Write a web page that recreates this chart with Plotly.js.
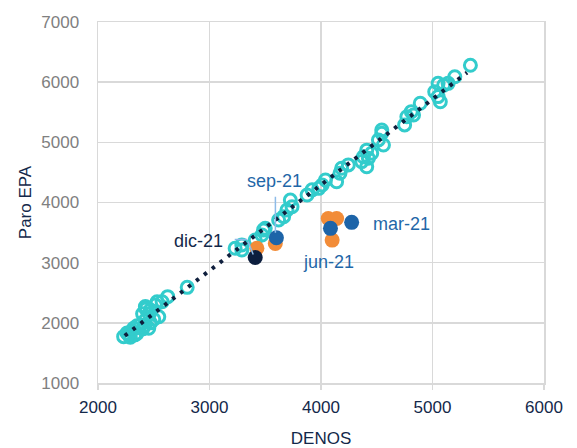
<!DOCTYPE html>
<html>
<head>
<meta charset="utf-8">
<script src="https://cdn.plot.ly/plotly-3.0.1.min.js"></script>
<style>html,body{margin:0;padding:0;background:#fff;}#chart{width:577px;height:448px;}</style>
</head>
<body>
<div id="chart"></div>
<script>
// Historical series (open turquoise circles)
const histDenos = [5340,5200,5140,5100,5050,5020,5050,5070,4890,4830,4810,4770,4750,4545,4545,4515,4560,4410,4455,4380,4425,4365,4410,4245,4185,4170,4140,4040,4010,3980,3920,3875,3725,3740,3695,3665,3620,3500,3470,3485,3410,3290,3230,3290,2800,2625,2575,2530,2515,2470,2425,2425,2545,2380,2455,2320,2350,2275,2230,2260,2300,2330,2400,2420,2470,2500,2400,2430,2460,2350,2290];
const histParo  = [6280,6090,5980,5950,5980,5840,5760,5675,5650,5455,5510,5425,5290,5205,5150,5040,4955,4870,4820,4760,4735,4680,4595,4625,4570,4485,4345,4375,4290,4235,4210,4125,4040,3930,3875,3765,3710,3570,3460,3545,3375,3295,3240,3210,2590,2435,2350,2350,2295,2215,2270,2045,2100,1965,1910,1910,1825,1800,1770,1830,1860,1800,1900,1960,2000,2060,2150,2230,2150,1950,1760];

// 2020 quarters (orange)
const orangeDenos = [3425,3590,4065,4140,4100];
const orangeParo  = [3240,3320,3735,3735,3375];

// 2021 quarters (blue)
const blueLabels = ["mar-21","jun-21","sep-21"];
const blueDenos  = [4275,4085,3600];
const blueParo   = [3670,3570,3415];

// Latest (navy)
const lastLabels = ["dic-21"];
const lastDenos  = [3410];
const lastParo   = [3085];

// Trend line endpoints
const trendDenos = [2240,5310];
const trendParo  = [1785,6160];

const xTicks = [2000,3000,4000,5000,6000];
const yTicks = [1000,2000,3000,4000,5000,6000,7000];

const FONT = "Liberation Sans, Arial, sans-serif";
const NAVY = "#13284a";
const BLUE = "#1f67a8";
const LEADER = "#8dbbe8";

const traces = [
  {x: histDenos, y: histParo, mode: "markers", type: "scatter",
   marker: {symbol: "circle-open", size: 12, color: "#33CCCC", line: {width: 3, color: "#33CCCC"}},
   hoverinfo: "skip", showlegend: false},
  {x: trendDenos, y: trendParo, mode: "lines", type: "scatter",
   line: {color: "#0f1f3d", width: 4, dash: "3.5px,6.5px"}, hoverinfo: "skip", showlegend: false},
  {x: orangeDenos, y: orangeParo, mode: "markers", type: "scatter",
   marker: {size: 15, color: "#F28C38"}, showlegend: false},
  {x: blueDenos, y: blueParo, mode: "markers", type: "scatter",
   marker: {size: 15, color: "#1D64A8"}, showlegend: false},
  {x: lastDenos, y: lastParo, mode: "markers", type: "scatter",
   marker: {size: 15, color: "#0C1E3E"}, showlegend: false}
];

const lblFont = {family: FONT, size: 18, color: BLUE};
const annotations = [
  {x: blueDenos[0], y: blueParo[0], text: blueLabels[0], showarrow: false, xshift: 50, yshift: -2, font: lblFont},
  {x: blueDenos[1], y: blueParo[1], text: blueLabels[1], showarrow: false, xshift: -2, yshift: -34, font: lblFont},
  {x: blueDenos[2], y: blueParo[2], text: blueLabels[2], showarrow: false, xshift: -2, yshift: 57, font: lblFont},
  {x: blueDenos[2], y: blueParo[2], text: " ", showarrow: true, arrowhead: 0, arrowwidth: 1.5, arrowcolor: LEADER,
   xshift: -1, yshift: 5, ax: 0, ay: -38, standoff: 0, font: {size: 1}},
  {x: lastDenos[0], y: lastParo[0], text: lastLabels[0], showarrow: false, xshift: -57, yshift: 17,
   font: {family: FONT, size: 18, color: NAVY}},
  {x: lastDenos[0], y: lastParo[0], text: " ", showarrow: true, arrowhead: 0, arrowwidth: 1.5, arrowcolor: LEADER,
   xshift: -8, yshift: 18, ax: -14, ay: 0, standoff: 0, font: {size: 1}},
  {x: lastDenos[0], y: lastParo[0], text: " ", showarrow: true, arrowhead: 0, arrowwidth: 1.5, arrowcolor: LEADER,
   xshift: -2, yshift: 3, ax: -6, ay: -15, standoff: 0, font: {size: 1}}
];

const layout = {
  width: 577, height: 448,
  margin: {l: 98, r: 33, t: 22, b: 65, pad: 0},
  paper_bgcolor: "#ffffff", plot_bgcolor: "#ffffff",
  font: {family: FONT},
  xaxis: {
    range: [2000, 6000], tickvals: xTicks, ticktext: xTicks.map(String),
    showgrid: true, gridcolor: "#d9d9d9", gridwidth: 1.5, zeroline: false,
    showline: true, linecolor: "#d9d9d9", linewidth: 1.5, mirror: true,
    ticks: "outside", ticklen: 5, tickcolor: "#d9d9d9", tickwidth: 1.5,
    ticklabelstandoff: 3,
    tickfont: {family: FONT, size: 17, color: NAVY},
    title: {text: "DENOS", font: {family: FONT, size: 17, color: NAVY}, standoff: 16},
    fixedrange: true
  },
  yaxis: {
    range: [1000, 7000], tickvals: yTicks, ticktext: yTicks.map(String),
    showgrid: true, gridcolor: "#d9d9d9", gridwidth: 1.5, zeroline: false,
    showline: true, linecolor: "#d9d9d9", linewidth: 1.5, mirror: true,
    ticks: "", ticklabelstandoff: 14,
    tickfont: {family: FONT, size: 17, color: "#808080"},
    title: {text: "Paro EPA", font: {family: FONT, size: 17, color: NAVY}, standoff: 5},
    fixedrange: true
  },
  annotations: annotations
};

Plotly.newPlot("chart", traces, layout, {displayModeBar: false, staticPlot: true});
</script>
</body>
</html>
